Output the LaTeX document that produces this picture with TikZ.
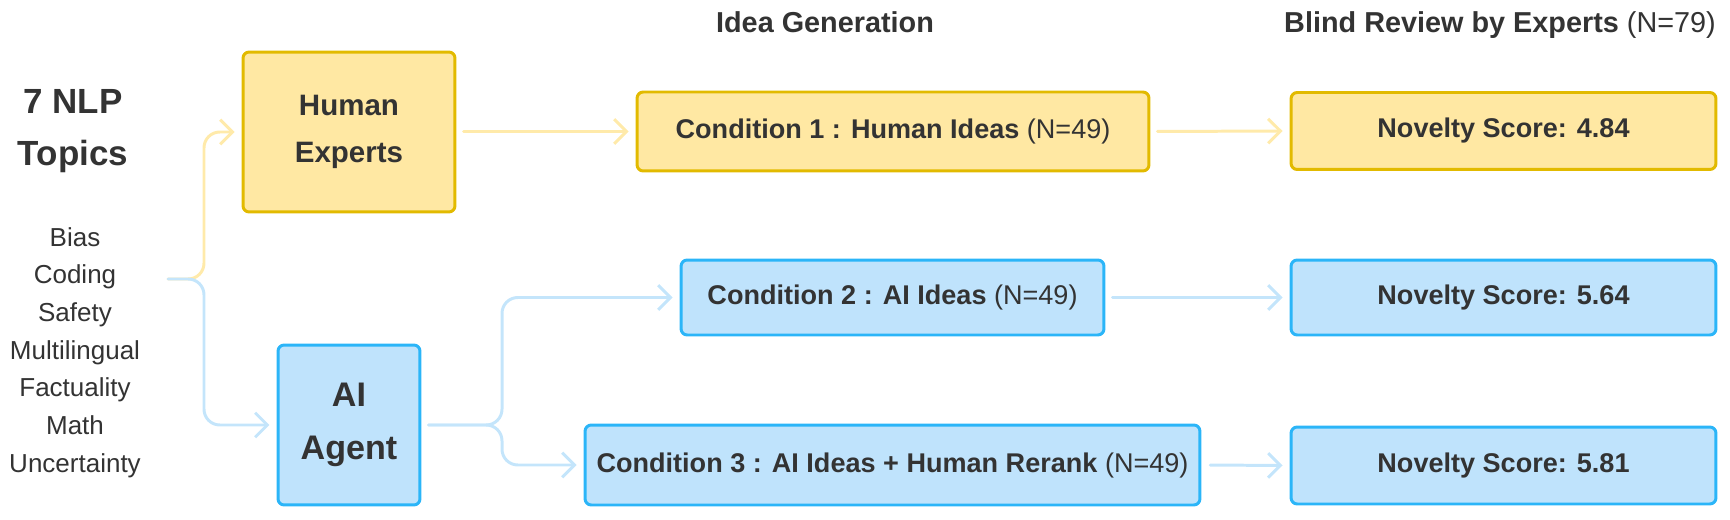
\documentclass[tikz,border=0pt]{standalone}
\usepackage{fontspec}
\setmainfont{Liberation Sans}
\usetikzlibrary{arrows.meta}
\definecolor{yfill}{rgb}{1,0.91,0.64}
\definecolor{ydraw}{rgb}{0.886,0.729,0}
\definecolor{ylight}{rgb}{1,0.918,0.667}
\definecolor{bfill}{rgb}{0.749,0.89,0.988}
\definecolor{bdraw}{rgb}{0.169,0.71,0.973}
\definecolor{blight}{rgb}{0.769,0.898,0.984}
\definecolor{txtgray}{rgb}{0.2,0.2,0.2}

\begin{document}
\begin{tikzpicture}[x=0.02cm,y=-0.02cm,line cap=round,line join=round,>={Straight Barb[length=7pt,width=14pt]},
  ybox/.style={draw=ydraw,fill=yfill,line width=1.7pt,rounded corners=3.5pt,text=txtgray,align=center,inner sep=0pt,font=\fontsize{15.4}{18}\selectfont},
  bbox/.style={draw=bdraw,fill=bfill,line width=1.7pt,rounded corners=3.5pt,text=txtgray,align=center,inner sep=0pt,font=\fontsize{15.4}{18}\selectfont},
  yconn/.style={->,draw=ylight,line width=1.7pt,rounded corners=9pt,shorten >=4pt},
  bconn/.style={->,draw=blight,line width=1.7pt,rounded corners=9pt,shorten >=4pt},
  heading/.style={anchor=base,text=txtgray,font=\fontsize{16.4}{20}\selectfont}]
\useasboundingbox (0,0) rectangle (1730,520);
% column titles
\node[heading] (gentitle) at (825,33) {\textbf{Idea Generation}};
\node[heading] (revtitle) at (1500,33) {\textbf{Blind Review by Experts} (N=79)};
% topics
\node[text=txtgray,align=center,font=\fontsize{19.9}{30}\selectfont\bfseries] (topics) at (73,131) {7 NLP\\Topics};
\foreach \t [count=\i] in {Bias,Coding,Safety,Multilingual,Factuality,Math,Uncertainty}
  \node[anchor=base,text=txtgray,font=\fontsize{14.8}{18}\selectfont] (topic\i) at (75,{246+37.7*(\i-1)}) {\t};
% sources
\node[ybox,minimum width=4.24cm,minimum height=3.2cm,font=\fontsize{16.8}{26.7}\selectfont\bfseries] (human) at (349,132) {Human\\Experts};
\node[bbox,minimum width=2.84cm,minimum height=3.2cm,font=\fontsize{19.4}{30}\selectfont\bfseries] (agent) at (349,425) {AI\\Agent};
% conditions
\node[ybox,minimum width=10.24cm,minimum height=1.58cm] (cond1) at (893,131.5) {\textbf{Condition 1 : Human Ideas} (N=49)};
\node[bbox,minimum width=8.46cm,minimum height=1.5cm] (cond2) at (892.5,297.5) {\textbf{Condition 2 : AI Ideas} (N=49)};
\node[bbox,minimum width=12.3cm,minimum height=1.6cm] (cond3) at (892.5,465) {\textbf{Condition 3 : AI Ideas + Human Rerank} (N=49)};
% scores
\node[ybox,minimum width=8.5cm,minimum height=1.54cm,font=\fontsize{15.4}{18}\selectfont\bfseries] (nov1) at (1503.5,131) {Novelty Score: 4.84};
\node[bbox,minimum width=8.5cm,minimum height=1.5cm,font=\fontsize{15.4}{18}\selectfont\bfseries] (nov2) at (1503.5,297.5) {Novelty Score: 5.64};
\node[bbox,minimum width=8.5cm,minimum height=1.54cm,font=\fontsize{15.4}{18}\selectfont\bfseries] (nov3) at (1503.5,465.5) {Novelty Score: 5.81};
% connectors
\coordinate (split) at (168,279);
\coordinate (fork1) at (204,279);
\coordinate (fork2) at (502,0);
\draw[yconn] (split) -- (fork1) |- (human.west);
\draw[bconn] (split) -- (fork1) |- (agent.west);
\draw[yconn,shorten <=4pt] (human.east |- cond1.west) -- (cond1.west);
\draw[yconn,shorten <=4pt] (cond1.east) -- (nov1.west);
\draw[bconn,shorten <=4pt] (agent.east) -- (agent.east -| fork2) |- (cond2.west);
\draw[bconn,shorten <=4pt] (agent.east) -- (agent.east -| fork2) |- (cond3.west);
\draw[bconn,shorten <=4pt] (cond2.east) -- (nov2.west);
\draw[bconn,shorten <=5pt] (cond3.east) -- (nov3.west);
\end{tikzpicture}
\end{document}
